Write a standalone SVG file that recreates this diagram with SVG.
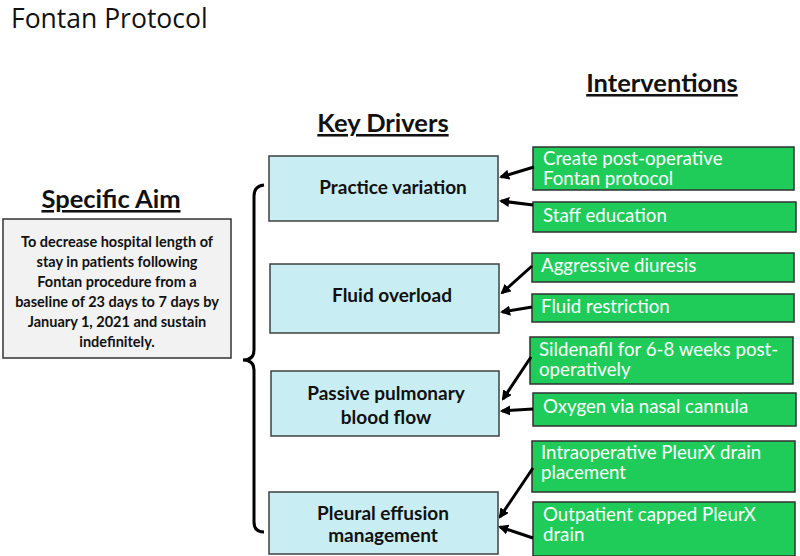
<svg xmlns="http://www.w3.org/2000/svg" width="800" height="556" viewBox="0 0 800 556">
<style>
.h{font-family:Lato,"Open Sans",sans-serif;font-weight:bold;font-size:25.5px;fill:#111;text-anchor:middle;text-decoration:underline}
.drv{fill:#c8eef3;stroke:#404040;stroke-width:1.5}
.dt{font-family:Lato,"Open Sans",sans-serif;font-weight:bold;font-size:19px;fill:#111;text-anchor:middle}
.int{fill:#1fcc5a;stroke:#303030;stroke-width:1.5}
.it{font-family:Lato,"Open Sans",sans-serif;font-size:18.7px;fill:#fff}
.at{font-family:Lato,"Open Sans",sans-serif;font-weight:bold;font-size:14.5px;fill:#111;text-anchor:middle}
.c{stroke:#000;stroke-width:3;fill:none;marker-end:url(#ah)}
</style>
<defs>
<marker id="ah" viewBox="0 0 10 10" refX="8" refY="5" markerWidth="3.4" markerHeight="3.4" orient="auto" markerUnits="strokeWidth">
<path d="M0,0 L10,5 L0,10 z" fill="#000"/>
</marker>
</defs>
<rect width="800" height="556" fill="#fff"/>
<text x="11" y="28" font-family="Open Sans,sans-serif" font-size="26.5" fill="#111">Fontan Protocol</text>

<text class="h" x="111" y="208">Specific Aim</text>
<text class="h" x="383" y="132">Key Drivers</text>
<text class="h" x="662" y="92">Interventions</text>

<g id="aim">
<rect x="3" y="219" width="228" height="139" fill="#f2f2f2" stroke="#333" stroke-width="1.5"/>
<text class="at"><tspan x="117" y="247">To decrease hospital length of</tspan><tspan x="117" y="267">stay in patients following</tspan><tspan x="117" y="287">Fontan procedure from a</tspan><tspan x="117" y="307">baseline of 23 days to 7 days by</tspan><tspan x="117" y="327">January 1, 2021 and sustain</tspan><tspan x="117" y="347">indefinitely.</tspan></text>
</g>

<g id="brace">
<path d="M264,185 Q254,186 254,196 L254,350 Q254,360 243,360 Q254,360 254,370 L254,522 Q254,532 264,532" fill="none" stroke="#000" stroke-width="3"/>
</g>

<g id="d1"><rect class="drv" x="269" y="156" width="229" height="65"/><text class="dt" x="393" y="194">Practice variation</text></g>
<g id="d2"><rect class="drv" x="270" y="264" width="229" height="69"/><text class="dt" x="392" y="302">Fluid overload</text></g>
<g id="d3"><rect class="drv" x="271" y="371" width="228" height="65"/><text class="dt"><tspan x="386" y="400">Passive pulmonary</tspan><tspan x="386" y="424">blood flow</tspan></text></g>
<g id="d4"><rect class="drv" x="269" y="492" width="229" height="62"/><text class="dt"><tspan x="383" y="520">Pleural effusion</tspan><tspan x="383" y="542">management</tspan></text></g>

<g id="i1"><rect class="int" x="533" y="147" width="261" height="43"/><text class="it"><tspan x="543" y="165">Create post-operative</tspan><tspan x="543" y="185">Fontan protocol</tspan></text></g>
<g id="i2"><rect class="int" x="533" y="202" width="263" height="30"/><text class="it" x="543" y="222">Staff education</text></g>
<g id="i3"><rect class="int" x="532" y="253" width="262" height="29"/><text class="it" x="541" y="272">Aggressive diuresis</text></g>
<g id="i4"><rect class="int" x="532" y="294" width="262" height="28"/><text class="it" x="541" y="313">Fluid restriction</text></g>
<g id="i5"><rect class="int" x="530" y="337" width="263" height="47"/><text class="it"><tspan x="539" y="356">Sildenafil for 6-8 weeks post-</tspan><tspan x="539" y="376">operatively</tspan></text></g>
<g id="i6"><rect class="int" x="533" y="393" width="263" height="33"/><text class="it" x="543" y="413">Oxygen via nasal cannula</text></g>
<g id="i7"><rect class="int" x="532" y="441" width="263" height="51"/><text class="it"><tspan x="541" y="459">Intraoperative PleurX drain</tspan><tspan x="541" y="479">placement</tspan></text></g>
<g id="i8"><rect class="int" x="533" y="502" width="262" height="54"/><text class="it"><tspan x="543" y="521">Outpatient capped PleurX</tspan><tspan x="543" y="541">drain</tspan></text></g>

<g id="connectors">
<line class="c" x1="534" y1="167" x2="501" y2="177"/>
<line class="c" x1="533" y1="205" x2="501" y2="201"/>
<line class="c" x1="532" y1="266" x2="502" y2="293"/>
<line class="c" x1="532" y1="307" x2="502" y2="312"/>
<line class="c" x1="531" y1="357" x2="503" y2="399"/>
<line class="c" x1="533" y1="409" x2="502" y2="411"/>
<line class="c" x1="533" y1="468" x2="500" y2="517"/>
<line class="c" x1="533" y1="538" x2="500" y2="527"/>
</g>
</svg>
